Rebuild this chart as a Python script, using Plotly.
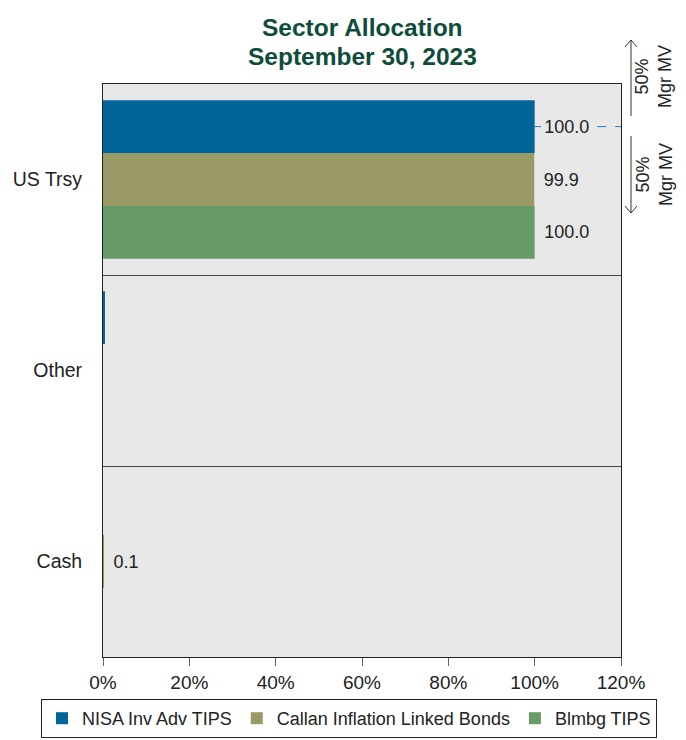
import plotly.graph_objects as go

categories = ["US Trsy", "Other", "Cash"]
series_names = ["NISA Inv Adv TIPS", "Callan Inflation Linked Bonds", "Blmbg TIPS"]
nisa = [100.0, 0.3, 0.0]
callan = [99.9, 0.0, 0.1]
blmbg = [100.0, 0.0, 0.0]
nisa_labels = ["100.0", "", ""]
callan_labels = ["99.9", "", "0.1"]
blmbg_labels = ["100.0", "", ""]
x_ticks = [0, 20, 40, 60, 80, 100, 120]
x_tick_text = ["0%", "20%", "40%", "60%", "80%", "100%", "120%"]
title_lines = ["Sector Allocation", "September 30, 2023"]

colors = ["#00669a", "#9a9a66", "#669a66"]
FONT = "Liberation Sans, Arial, sans-serif"

W, H = 686, 740
L, R, T, B = 103, 65, 84, 83
PW, PH = W - L - R, H - T - B


def px(x):
    return (x - L) / PW


def py(y):
    return (H - B - y) / PH


NB = "\u00a0\u200a"

fig = go.Figure()
for name, vals, labs, col in zip(series_names, [nisa, callan, blmbg],
                                 [nisa_labels, callan_labels, blmbg_labels], colors):
    fig.add_trace(go.Bar(
        y=categories, x=vals, name=name, orientation="h",
        marker=dict(color=col, line=dict(width=0)),
        text=[(NB + t) if t else "" for t in labs], textposition="outside", cliponaxis=False,
        textfont=dict(size=18, color="#222222", family=FONT),
    ))

shapes = []
# dashed leader at top bar
for x0, x1 in [(100, 101.5), (114.5, 120)]:
    shapes.append(dict(type="line", xref="x", yref="y", x0=x0, x1=x1, y0=-0.277, y1=-0.277,
                       line=dict(color="#1f7fc4", width=1, dash="dash")))
# arrows on right
ax_x = 631
shapes.append(dict(type="line", xref="paper", yref="paper", x0=px(ax_x), x1=px(ax_x),
                   y0=py(40), y1=py(116), line=dict(color="#333", width=1)))
shapes.append(dict(type="line", xref="paper", yref="paper", x0=px(ax_x), x1=px(ax_x),
                   y0=py(136), y1=py(213), line=dict(color="#333", width=1)))
shapes.append(dict(type="path", xref="paper", yref="paper",
                   path=f"M {px(ax_x-6)} {py(47)} L {px(ax_x)} {py(40)} L {px(ax_x+6)} {py(47)}",
                   line=dict(color="#333", width=1)))
shapes.append(dict(type="path", xref="paper", yref="paper",
                   path=f"M {px(ax_x-6)} {py(206)} L {px(ax_x)} {py(213)} L {px(ax_x+6)} {py(206)}",
                   line=dict(color="#333", width=1)))

annotations = []
for yc in [77, 175]:
    annotations.append(dict(xref="paper", yref="paper", x=px(654), y=py(yc),
                            text="50%<br>Mgr MV", showarrow=False, textangle=-90,
                            font=dict(size=18, color="#222222", family=FONT),
                            xanchor="center", yanchor="middle"))
for line, yc in zip(title_lines, [27, 56]):
    annotations.append(dict(xref="paper", yref="paper", x=px(362), y=py(yc),
                            text=f"<b>{line}</b>", showarrow=False,
                            font=dict(size=24.5, color="#0e4d3a", family=FONT),
                            xanchor="center", yanchor="middle"))

fig.update_layout(
    width=W, height=H,
    margin=dict(l=L, r=R, t=T, b=B, autoexpand=False),
    paper_bgcolor="white",
    plot_bgcolor="#e8e8e8",
    barmode="group", bargap=0.17, bargroupgap=0,
    font=dict(family=FONT, size=18, color="#222222"),
    xaxis=dict(range=[0, 120], tickvals=x_ticks, ticktext=x_tick_text,
               showgrid=False, zeroline=False, showline=True, mirror=True,
               linecolor="#222", linewidth=1, ticks="outside", ticklen=8,
               tickcolor="#666", tickfont=dict(size=19, color="#222"), automargin=False),
    yaxis=dict(autorange="reversed", showgrid=True, gridcolor="#444", gridwidth=1,
               tickson="boundaries", ticks="", showline=True, mirror=True,
               linecolor="#222", linewidth=1, ticklabelstandoff=16, automargin=False,
               tickfont=dict(size=19.5, color="#222")),
    legend=dict(orientation="h", xref="paper", x=px(41), xanchor="left",
                yref="paper", y=py(699), yanchor="top",
                bordercolor="#222", borderwidth=1, font=dict(size=18, color="#222"),
                traceorder="normal", itemclick=False),
    shapes=shapes,
    annotations=annotations,
    showlegend=True,
)

fig.write_html("out.html", config={"displayModeBar": False},
               post_script="document.body.style.margin='0';document.body.style.padding='0';")
